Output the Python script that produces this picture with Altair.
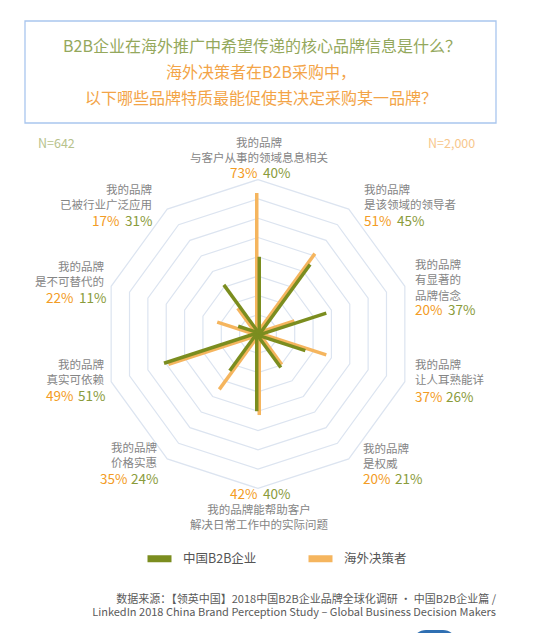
import pandas as pd
import altair as alt

# ---------------- data ----------------
SERIES = ["中国B2B企业", "海外决策者"]
AXIS_LINES = [
    ["我的品牌", "与客户从事的领域息息相关"],
    ["我的品牌", "是该领域的领导者"],
    ["我的品牌", "有显著的", "品牌信念"],
    ["我的品牌", "让人耳熟能详"],
    ["我的品牌", "是权威"],
    ["我的品牌能帮助客户", "解决日常工作中的实际问题"],
    ["我的品牌", "价格实惠"],
    ["我的品牌", "真实可依赖"],
    ["我的品牌", "是不可替代的"],
    ["我的品牌", "已被行业广泛应用"],
]
OVERSEAS = [73, 51, 20, 37, 20, 42, 35, 49, 22, 17]
CHINA = [40, 45, 37, 26, 21, 40, 24, 51, 11, 31]
RINGS = [10, 20, 30, 40, 50, 60, 70, 80]
TITLE_LINES = [
    "B2B企业在海外推广中希望传递的核心品牌信息是什么？",
    "海外决策者在B2B采购中，",
    "以下哪些品牌特质最能促使其决定采购某一品牌？",
]
N_LABELS = ["N=642", "N=2,000"]
SOURCE_LINES = [
    "数据来源：【领英中国】2018中国B2B企业品牌全球化调研 · 中国B2B企业篇 /",
    "LinkedIn 2018 China Brand Perception Study – Global Business Decision Makers",
]

# ---------------- layout / style ----------------
W, H = 537, 625
K = 1.93            # px per percentage point
CX, CY = 250, 326   # radar centre inside plot area (px)
GREEN = "#7b8d1f"
ORANGE = "#f5b55e"
RING = "#dce4f0"
GRAY = "#858585"
PCT_ORANGE = "#f39c25"
PCT_GREEN = "#8a9b3b"
FONT = "Noto Sans CJK SC"

# label anchors in page px: align, x, first line y, pct y, orange x, green x
LABEL_POS = [
    ("center", 259, 144, 174, 230, 263),
    ("left", 364, 191, 222, 364, 397),
    ("left", 415, 266, 311, 415, 448),
    ("left", 415, 366, 398, 415, 446),
    ("left", 363, 450, 480, 363, 395),
    ("center", 259, 511, 495, 230, 263),
    ("right", 157, 449, 480, 100, 131),
    ("right", 104, 366, 397, 46, 78),
    ("right", 104, 268, 299, 46, 79),
    ("right", 152, 191, 222, 92, 125),
]
LINE_STEP = 15.3


def dx(x):
    return (x - 8 - CX) / K


def dy(y):
    return (CY - (y - 8)) / K


xs = alt.Scale(domain=[-CX / K, (W - CX) / K], nice=False, zero=False)
ys = alt.Scale(domain=[-(H - CY) / K, CY / K], nice=False, zero=False)
X = alt.X("x:Q", scale=xs, axis=None)
Y = alt.Y("y:Q", scale=ys, axis=None)

# ---------------- rings ----------------
ring_df = pd.DataFrame([{"r": r, "i": i} for r in RINGS for i in range(11)])
rings = (
    alt.Chart(ring_df)
    .transform_calculate(
        x="datum.r * sin(datum.i * PI / 5)",
        y="datum.r * cos(datum.i * PI / 5)",
    )
    .mark_line(color=RING, strokeWidth=1.2)
    .encode(x=X, y=Y, detail="r:N", order="i:Q")
)

# ---------------- spokes ----------------
color = alt.Color(
    "series:N",
    scale=alt.Scale(domain=SERIES, range=[GREEN, ORANGE]),
    legend=alt.Legend(
        orient="none", legendX=136, legendY=535, direction="horizontal",
        title=None, symbolType="stroke", symbolSize=576, symbolStrokeWidth=7,
        labelFontSize=12.5, labelFont=FONT, labelColor="#555555",
        labelOffset=8, columnPadding=37, padding=0, symbolOpacity=1,
    ),
)


def spokes(values, name, off):
    df = pd.DataFrame({"k": list(range(10)), "v": values})
    df["series"] = name
    df["off"] = off
    return (
        alt.Chart(df)
        .transform_calculate(t="datum.k * PI / 5")
        .transform_calculate(
            x="datum.off * cos(datum.t)",
            y="-datum.off * sin(datum.t)",
        )
        .transform_calculate(
            x2="datum.v * sin(datum.t) + datum.x",
            y2="datum.v * cos(datum.t) + datum.y",
        )
        .mark_rule(strokeWidth=3.5, strokeCap="butt")
        .encode(x=X, y=Y, x2="x2:Q", y2="y2:Q", color=color)
    )


orange_spokes = spokes(OVERSEAS, SERIES[1], -0.65)
green_spokes = spokes(CHINA, SERIES[0], 0.65)

# ---------------- labels ----------------
label_rows = {"left": [], "center": [], "right": []}
pct_o, pct_g = [], []
for k, (align, x, y0, ypct, ox, gx) in enumerate(LABEL_POS):
    for j, line in enumerate(AXIS_LINES[k]):
        label_rows[align].append({"text": line, "x": dx(x), "y": dy(y0 + j * LINE_STEP)})
    pct_o.append({"text": f"{OVERSEAS[k]}%", "x": dx(ox), "y": dy(ypct)})
    pct_g.append({"text": f"{CHINA[k]}%", "x": dx(gx), "y": dy(ypct)})


def text_layer(rows, align, col, size, weight="normal"):
    return (
        alt.Chart(pd.DataFrame(rows))
        .mark_text(align=align, baseline="middle", color=col, fontSize=size,
                   font=FONT, fontWeight=weight)
        .encode(x=X, y=Y, text="text:N")
    )


label_layers = [text_layer(rows, a, GRAY, 11.5) for a, rows in label_rows.items()]
pct_layers = [
    text_layer(pct_o, "left", PCT_ORANGE, 13.5),
    text_layer(pct_g, "left", PCT_GREEN, 13.5),
]

# ---------------- title box ----------------
box = (
    alt.Chart(pd.DataFrame([{"x": dx(25), "x2": dx(496), "y": dy(21), "y2": dy(123)}]))
    .mark_rect(fill="white", stroke="#a9c6ee", strokeWidth=1.3)
    .encode(x=X, x2="x2:Q", y=Y, y2="y2:Q")
)
title_layers = [
    text_layer([{"text": TITLE_LINES[0], "x": dx(262), "y": dy(47)}], "center", "#94a85c", 16),
    text_layer([{"text": TITLE_LINES[1], "x": dx(261), "y": dy(73)},
                {"text": TITLE_LINES[2], "x": dx(261), "y": dy(99)}], "center", "#f3a447", 16),
]
n_layers = [
    text_layer([{"text": N_LABELS[0], "x": dx(38), "y": dy(144)}], "left", "#b7c28c", 12.5),
    text_layer([{"text": N_LABELS[1], "x": dx(428), "y": dy(144)}], "left", "#f7c78c", 12.5),
]
source_layer = text_layer(
    [{"text": SOURCE_LINES[0], "x": dx(496), "y": dy(600)},
     {"text": SOURCE_LINES[1], "x": dx(496), "y": dy(613)}],
    "right", "#5a5a5a", 11,
)

# decorative blue tab peeking in at the bottom edge
tab = (
    alt.Chart(pd.DataFrame([{"x": dx(412), "x2": dx(457), "y": dy(630), "y2": dy(660)}]))
    .mark_rect(fill="#2f6fb2", cornerRadius=14)
    .encode(x=X, x2="x2:Q", y=Y, y2="y2:Q")
)

chart = (
    alt.layer(
        box, *title_layers, *n_layers, rings, orange_spokes, green_spokes,
        *label_layers, *pct_layers, source_layer, tab,
    )
    .properties(width=W, height=H, padding=0,
                autosize=alt.AutoSizeParams(type="none"), background="white")
    .configure_view(stroke=None)
)

chart.save("out.html", embed_options={"renderer": "svg", "actions": False})
